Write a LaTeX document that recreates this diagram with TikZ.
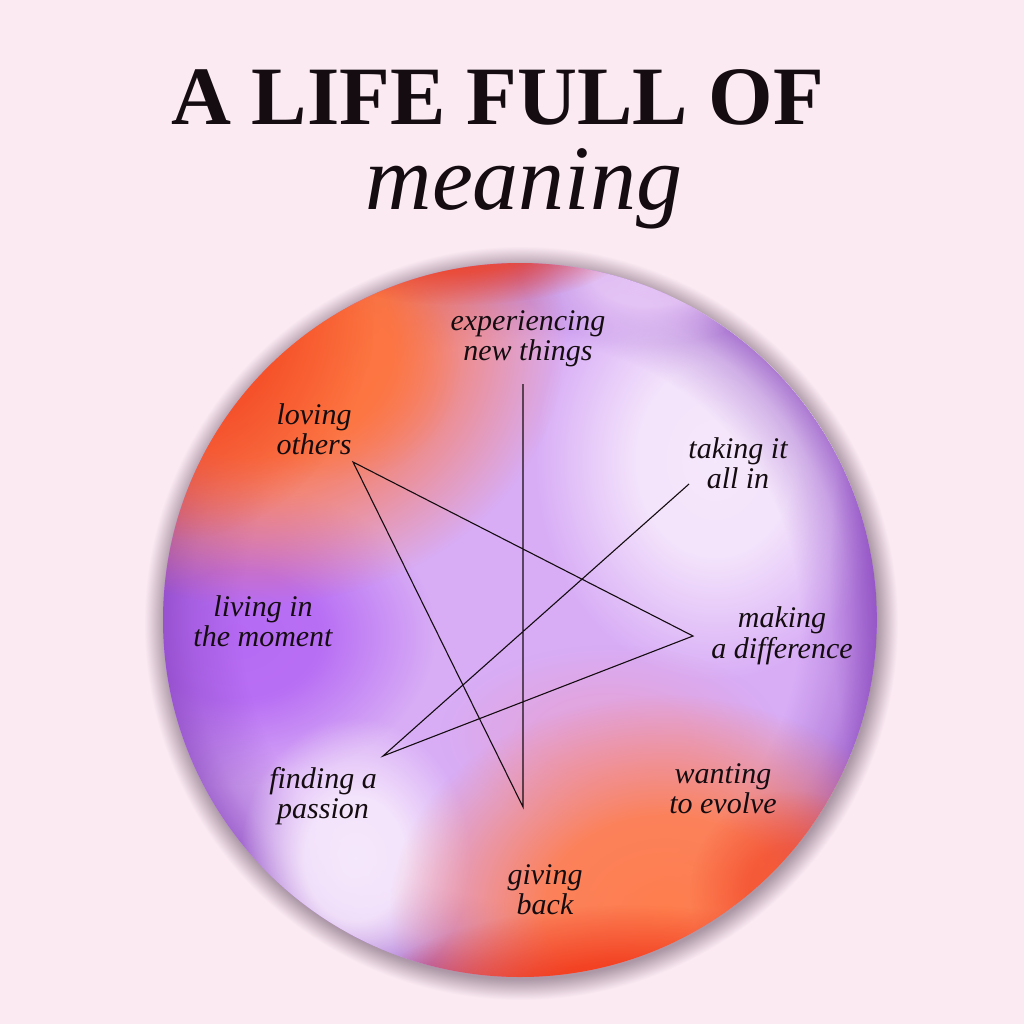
\documentclass[tikz,border=0pt]{standalone}
\usepackage{fontspec}
\setmainfont{Liberation Serif}
\usetikzlibrary{fadings}
\definecolor{bg}{RGB}{252,234,243}
\definecolor{shadowc}{RGB}{172,152,166}
\definecolor{lavbase}{RGB}{216,173,246}
\definecolor{nearwhite}{RGB}{246,232,252}
\definecolor{palelav}{RGB}{236,206,250}
\definecolor{purpleL}{RGB}{182,106,244}
\definecolor{pinkmid}{RGB}{236,156,200}
\definecolor{orangeB}{RGB}{255,126,78}
\definecolor{redB}{RGB}{242,58,28}
\definecolor{orangeT}{RGB}{255,116,60}
\definecolor{redT}{RGB}{242,64,32}
\definecolor{rimP}{RGB}{132,64,186}
\definecolor{inkc}{RGB}{20,12,16}
\pgfdeclareradialshading{blobsh}{\pgfpointorigin}{color(0bp)=(pgftransparent!0); color(11bp)=(pgftransparent!8); color(25bp)=(pgftransparent!100); color(50bp)=(pgftransparent!100)}
\pgfdeclarefading{blobfade}{\pgfuseshading{blobsh}}
\pgfdeclareradialshading{rimsh}{\pgfpointorigin}{color(0bp)=(pgftransparent!100); color(19.5bp)=(pgftransparent!100); color(23bp)=(pgftransparent!55); color(25bp)=(pgftransparent!10); color(50bp)=(pgftransparent!10)}
\pgfdeclarefading{rimfade}{\pgfuseshading{rimsh}}
\pgfdeclareradialshading{halo}{\pgfpointorigin}{color(0bp)=(shadowc); color(23.6bp)=(shadowc); color(25bp)=(bg); color(50bp)=(bg)}
\tikzset{
  glow/.style={fill=#1, path fading=blobfade, fit fading=true},
  rim/.style={fill=#1, path fading=rimfade, fit fading=true},
  label/.style={font=\itshape\fontsize{30}{30}\selectfont, align=center, inner sep=0pt, text=inkc},
  starline/.style={draw=inkc, line width=1.1pt, line join=miter}
}
\begin{document}
\begin{tikzpicture}[x=1pt,y=-1pt]
\useasboundingbox (0,0) rectangle (1024,1024);
\fill[bg] (0,0) rectangle (1024,1024);
% title
\node (t1) at (497.5,125) [anchor=base, font=\bfseries\fontsize{83}{83}\selectfont, text=inkc, inner sep=0pt] {A LIFE FULL OF};
\node (t2) at (524,210) [anchor=base, font=\itshape\fontsize{92}{92}\selectfont, text=inkc, inner sep=0pt] {meaning};
% disc
\coordinate (C) at (520,620);
\coordinate (CS) at (521,623);
\shade[shading=halo] (CS) circle (377);
\begin{scope}
\clip (C) circle (357);
\fill[lavbase] (C) circle (357);
% pale areas
\fill[glow=nearwhite] (715,460) ellipse [x radius=180, y radius=220];
\fill[glow=purpleL] (235,635) ellipse [x radius=200, y radius=150];
% purple rim all round
\fill[rim=rimP, fill opacity=0.7] (C) circle (357);
% pale overlays on the rim
\fill[glow=palelav, fill opacity=0.9] (650,275) ellipse [x radius=130, y radius=70];
\fill[glow=nearwhite] (355,858) ellipse [x radius=115, y radius=140];
% transitions
\fill[glow=pinkmid, fill opacity=0.5] (610,735) ellipse [x radius=170, y radius=90];
% bottom warm
\fill[glow=orangeB] (665,910) ellipse [x radius=275, y radius=215];
\fill[glow=redB, fill opacity=0.95] (630,1010) ellipse [x radius=270, y radius=105];
\fill[glow=redB, fill opacity=0.55] (790,890) ellipse [x radius=100, y radius=100];
% top-left warm
\fill[glow=orangeT] (255,340) ellipse [x radius=310, y radius=265];
\fill[glow=orangeT, fill opacity=0.5] (340,370) ellipse [x radius=120, y radius=110];
\fill[glow=redT, fill opacity=0.85] (175,300) ellipse [x radius=200, y radius=240];
\fill[glow=redT, fill opacity=0.8] (460,245) ellipse [x radius=170, y radius=60];
% extra rim darkening right
\fill[glow=rimP, fill opacity=0.6] (930,580) ellipse [x radius=100, y radius=300];
\end{scope}
% star vertices
\coordinate (vtop) at (523,384);
\coordinate (vbot) at (523,807);
\coordinate (vlo) at (353,462);
\coordinate (vmd) at (693,636);
\coordinate (vfp) at (383,756);
\coordinate (vti) at (689,484);
\draw[starline] (vtop) -- (vbot) -- (vlo) -- (vmd) -- (vfp) -- (vti);
% labels
\node[label] (exp) at (528,339) {\strut experiencing\\\strut new things};
\node[label] (lov) at (314,433) {\strut loving\\\strut others};
\node[label] (tak) at (738,467) {\strut taking it\\\strut all in};
\node[label] (mak) at (782,637) {\strut making\\\strut a difference};
\node[label] (liv) at (263,625) {\strut living in\\\strut the moment};
\node[label] (fin) at (323,797) {\strut finding a\\\strut passion};
\node[label] (wan) at (723,792) {\strut wanting\\\strut to evolve};
\node[label] (giv) at (545,893) {\strut giving\\\strut back};
\end{tikzpicture}
\end{document}
